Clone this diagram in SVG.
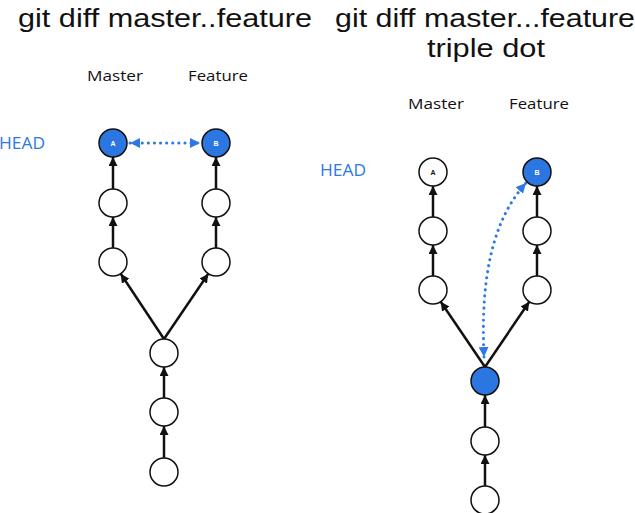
<svg xmlns="http://www.w3.org/2000/svg" width="635" height="513" viewBox="0 0 635 513">
<style>
.title{font-family:"Liberation Sans",Arial,sans-serif;font-size:26px;fill:#111;text-anchor:middle}
.lbl{font-family:"Open Sans","Liberation Sans",sans-serif;font-size:15px;fill:#111;text-anchor:middle}
.head{font-family:"Open Sans","Liberation Sans",sans-serif;font-size:16px;fill:#2c78e4}
.n{fill:#fff;stroke:#111;stroke-width:1.5}
.nb{fill:#2b76e0;stroke:#111;stroke-width:1.5}
.nt{font-family:"Liberation Sans",sans-serif;font-size:7px;font-weight:bold;text-anchor:middle}
.e{stroke:#111;stroke-width:2.5;fill:none;marker-end:url(#ah)}
.d{stroke:#2c78e4;stroke-width:3;fill:none;stroke-dasharray:0.1 6;stroke-linecap:round;marker-end:url(#bh);marker-start:url(#bs)}
</style>
<defs>
<marker id="ah" viewBox="0 0 10 10" refX="10" refY="5" markerWidth="9" markerHeight="9" markerUnits="userSpaceOnUse" orient="auto"><path d="M0,0L10,5L0,10z" fill="#111"/></marker>
<marker id="bh" viewBox="0 0 10 10" refX="10" refY="5" markerWidth="10" markerHeight="10" markerUnits="userSpaceOnUse" orient="auto"><path d="M0,0L10,5L0,10z" fill="#2c78e4"/></marker>
<marker id="bs" viewBox="0 0 10 10" refX="0" refY="5" markerWidth="10" markerHeight="10" markerUnits="userSpaceOnUse" orient="auto"><path d="M10,0L0,5L10,10z" fill="#2c78e4"/></marker>
</defs>
<text class="title" x="165" y="27" textLength="294" lengthAdjust="spacingAndGlyphs">git diff master..feature</text>
<text class="title" x="485" y="27" textLength="300" lengthAdjust="spacingAndGlyphs">git diff master...feature</text>
<text class="title" x="486" y="57" textLength="118" lengthAdjust="spacingAndGlyphs">triple dot</text>
<text class="lbl" x="115" y="81" textLength="56" lengthAdjust="spacingAndGlyphs">Master</text>
<text class="lbl" x="218" y="81" textLength="60" lengthAdjust="spacingAndGlyphs">Feature</text>
<text class="lbl" x="436" y="109" textLength="56" lengthAdjust="spacingAndGlyphs">Master</text>
<text class="lbl" x="539" y="109" textLength="60" lengthAdjust="spacingAndGlyphs">Feature</text>
<text class="head" x="-1" y="149" textLength="46" lengthAdjust="spacingAndGlyphs">HEAD</text>
<text class="head" x="320" y="176" textLength="46" lengthAdjust="spacingAndGlyphs">HEAD</text>
<g id="connectors">
<line class="e" x1="113" y1="248" x2="113" y2="217"/>
<line class="e" x1="113" y1="189" x2="113" y2="157"/>
<line class="e" x1="216" y1="248" x2="216" y2="217"/>
<line class="e" x1="216" y1="189" x2="216" y2="157"/>
<line class="e" x1="164" y1="339" x2="120.7" y2="273.7"/>
<line class="e" x1="164" y1="339" x2="208.3" y2="273.7"/>
<line class="e" x1="164" y1="398" x2="164" y2="367"/>
<line class="e" x1="164" y1="458" x2="164" y2="426"/>
<line class="d" x1="130" y1="143" x2="200" y2="143"/>
<line class="e" x1="433" y1="276" x2="433" y2="245"/>
<line class="e" x1="433" y1="217" x2="433" y2="186"/>
<line class="e" x1="537" y1="276" x2="537" y2="245"/>
<line class="e" x1="537" y1="217" x2="537" y2="186"/>
<line class="e" x1="485" y1="367" x2="440.7" y2="301.7"/>
<line class="e" x1="485" y1="367" x2="529.3" y2="301.7"/>
<line class="e" x1="485" y1="427" x2="485" y2="395"/>
<line class="e" x1="485" y1="486" x2="485" y2="455"/>
<path class="d" d="M484,357 C481,290 488,225 526,183"/>
</g>
<g id="L-A"><circle class="nb" cx="113" cy="143" r="14"/><text class="nt" x="113" y="146" fill="#fff">A</text></g>
<g id="L-B"><circle class="nb" cx="216" cy="143" r="14"/><text class="nt" x="216" y="146" fill="#fff">B</text></g>
<g id="L-m2"><circle class="n" cx="113" cy="203" r="14"/></g>
<g id="L-m3"><circle class="n" cx="113" cy="262" r="14"/></g>
<g id="L-f2"><circle class="n" cx="216" cy="203" r="14"/></g>
<g id="L-f3"><circle class="n" cx="216" cy="262" r="14"/></g>
<g id="L-base"><circle class="n" cx="164" cy="353" r="14"/></g>
<g id="L-c2"><circle class="n" cx="164" cy="412" r="14"/></g>
<g id="L-c3"><circle class="n" cx="164" cy="472" r="14"/></g>
<g id="R-A"><circle class="n" cx="433" cy="172" r="14"/><text class="nt" x="433" y="175" fill="#111">A</text></g>
<g id="R-B"><circle class="nb" cx="537" cy="172" r="14"/><text class="nt" x="537" y="175" fill="#fff">B</text></g>
<g id="R-m2"><circle class="n" cx="433" cy="231" r="14"/></g>
<g id="R-m3"><circle class="n" cx="433" cy="290" r="14"/></g>
<g id="R-f2"><circle class="n" cx="537" cy="231" r="14"/></g>
<g id="R-f3"><circle class="n" cx="537" cy="290" r="14"/></g>
<g id="R-base"><circle class="nb" cx="485" cy="381" r="14"/></g>
<g id="R-c2"><circle class="n" cx="485" cy="441" r="14"/></g>
<g id="R-c3"><circle class="n" cx="485" cy="500" r="14"/></g>
</svg>
